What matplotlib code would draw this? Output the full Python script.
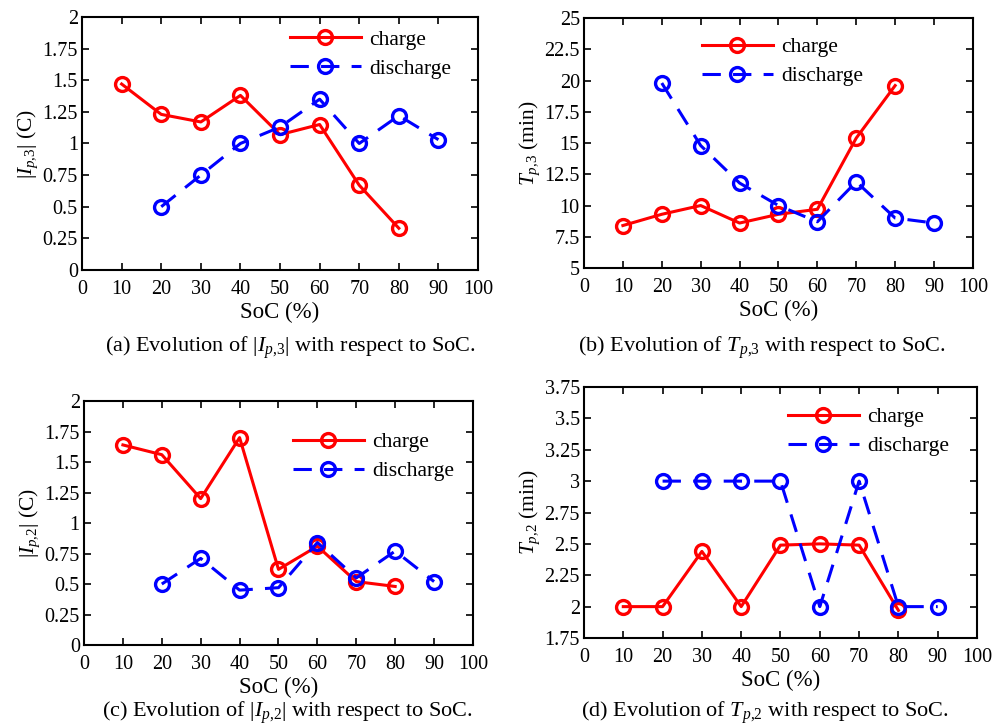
import matplotlib
matplotlib.use('Agg')
import matplotlib.pyplot as plt
from matplotlib.ticker import FuncFormatter

plt.rcParams['font.family'] = 'Liberation Serif'
plt.rcParams['mathtext.fontset'] = 'custom'
plt.rcParams['mathtext.rm'] = 'Liberation Serif'
plt.rcParams['mathtext.it'] = 'Liberation Serif:italic'
plt.rcParams['font.size'] = 16

soc_c = [10, 20, 30, 40, 50, 60, 70, 80]
soc_d = [20, 30, 40, 50, 60, 70, 80, 90]

# (a) |I_p,3|
ip3_charge = [1.47, 1.23, 1.17, 1.38, 1.07, 1.15, 0.67, 0.33]
ip3_discharge = [0.50, 0.75, 1.00, 1.13, 1.35, 1.00, 1.22, 1.03]
# (b) T_p,3
tp3_charge = [8.4, 9.3, 10.0, 8.6, 9.3, 9.7, 15.4, 19.6]
tp3_discharge = [19.8, 14.8, 11.8, 10.0, 8.7, 11.9, 9.0, 8.6]
# (c) |I_p,2|
ip2_charge = [1.64, 1.56, 1.20, 1.70, 0.62, 0.81, 0.52, 0.48]
ip2_discharge = [0.50, 0.71, 0.45, 0.47, 0.84, 0.55, 0.77, 0.52]
# (d) T_p,2
tp2_charge = [2.0, 2.0, 2.44, 2.0, 2.49, 2.5, 2.49, 1.97]
tp2_discharge = [3, 3, 3, 3, 2, 3, 2, 2]

panels = [
    # rect, charge, discharge, ylim, ystep, ylabel, caption, caption pos, legend anchor
    ([0.0826, 0.6276, 0.3988, 0.349], ip3_charge, ip3_discharge, (0, 2), 0.25,
     r'$|I_{p{,}3}|$ (C)', r'(a) Evolution of $|I_{p{,}3}|$ with respect to SoC.', (0.292, 0.521), (0.525, 0.95)),
    ([0.5881, 0.6303, 0.3917, 0.3448], tp3_charge, tp3_discharge, (5, 25), 2.5,
     r'$T_{p{,}3}$ (min)', r'(b) Evolution of $T_{p{,}3}$ with respect to SoC.', (0.767, 0.521), (0.303, 0.924)),
    ([0.0846, 0.1103, 0.3917, 0.3366], ip2_charge, ip2_discharge, (0, 2), 0.25,
     r'$|I_{p{,}2}|$ (C)', r'(c) Evolution of $|I_{p{,}2}|$ with respect to SoC.', (0.289, 0.017), (0.537, 0.873)),
    ([0.5881, 0.12, 0.3958, 0.3462], tp2_charge, tp2_discharge, (1.75, 3.75), 0.25,
     r'$T_{p{,}2}$ (min)', r'(d) Evolution of $T_{p{,}2}$ with respect to SoC.', (0.770, 0.017), (0.519, 0.92)),
]

fig = plt.figure(figsize=(9.93, 7.25), dpi=100)
fmt = FuncFormatter(lambda v, p: f'{v:g}')

for rect, ch, dis, ylim, ystep, ylab, cap, cpos, lpos in panels:
    ax = fig.add_axes(rect)
    ax.plot(soc_c, ch, '-', color='red', lw=2.2, marker='o', ms=10, mfc='none', mew=2.4, label='charge')
    ax.plot(soc_d, dis, color='blue', lw=2.2, ls=(0, (6, 4)), marker='o', ms=10, mfc='none', mew=2.4,
            label='discharge')
    ax.set_xlim(0, 100)
    ax.set_ylim(*ylim)
    ax.set_xticks(range(0, 101, 10))
    n = int(round((ylim[1] - ylim[0]) / ystep))
    ax.set_yticks([ylim[0] + i * ystep for i in range(n + 1)])
    ax.yaxis.set_major_formatter(fmt)
    ax.tick_params(direction='in', top=True, right=True, length=5, width=1.2, labelsize=14.5)
    ax.tick_params(axis='x', pad=7)
    ax.tick_params(axis='y', pad=3)
    for s in ax.spines.values():
        s.set_linewidth(1.5)
    ax.set_xlabel('SoC (%)', fontsize=16.5, labelpad=2)
    ax.set_ylabel(ylab, fontsize=15.5, labelpad=2)
    ax.legend(loc='upper left', bbox_to_anchor=lpos, frameon=False, borderpad=0, borderaxespad=0,
              handlelength=3.3, handletextpad=0.4, labelspacing=0.42, fontsize=15.5)
    fig.text(cpos[0], cpos[1], cap, ha='center', va='center', fontsize=16)

plt.savefig('out.png', dpi=100)
